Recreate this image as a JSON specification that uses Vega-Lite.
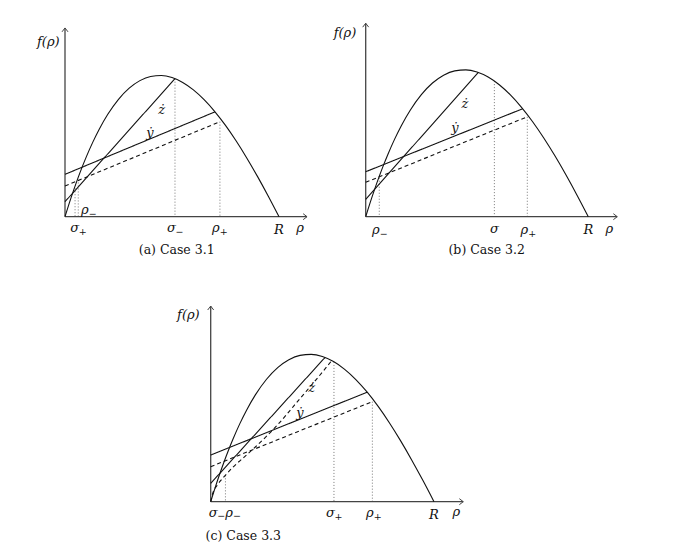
{
  "$schema": "https://vega.github.io/schema/vega-lite/v6.json",
  "background": "white",
  "padding": {"left": 24, "top": 12, "right": 0, "bottom": 0},
  "config": {"view": {"stroke": null}},
  "datasets": {
    "curve": [
      {"u": 0, "v": 0}, {"u": 0.01, "v": 0.032}, {"u": 0.02, "v": 0.0632}, {"u": 0.04, "v": 0.1228},
      {"u": 0.06, "v": 0.1789}, {"u": 0.08, "v": 0.2316}, {"u": 0.1, "v": 0.2808}, {"u": 0.13, "v": 0.3485},
      {"u": 0.16, "v": 0.4088}, {"u": 0.2, "v": 0.4784}, {"u": 0.25, "v": 0.5484}, {"u": 0.3, "v": 0.6006},
      {"u": 0.35, "v": 0.6359}, {"u": 0.4, "v": 0.6552}, {"u": 0.45, "v": 0.6596}, {"u": 0.5, "v": 0.65},
      {"u": 0.55, "v": 0.6274}, {"u": 0.6, "v": 0.5928}, {"u": 0.65, "v": 0.5471}, {"u": 0.7, "v": 0.4914},
      {"u": 0.75, "v": 0.4266}, {"u": 0.8, "v": 0.3536}, {"u": 0.85, "v": 0.2735}, {"u": 0.9, "v": 0.1872},
      {"u": 0.95, "v": 0.0957}, {"u": 1.0, "v": 0}
    ],
    "axes": [
      {"panel": "a", "axis": "x", "u": 0, "v": 0, "tip": false}, {"panel": "a", "axis": "x", "u": 1.131, "v": 0, "tip": true},
      {"panel": "a", "axis": "y", "u": 0, "v": 0, "tip": false}, {"panel": "a", "axis": "y", "u": 0, "v": 0.882, "tip": true},
      {"panel": "b", "axis": "x", "u": 0, "v": 0, "tip": false}, {"panel": "b", "axis": "x", "u": 1.13, "v": 0, "tip": true},
      {"panel": "b", "axis": "y", "u": 0, "v": 0, "tip": false}, {"panel": "b", "axis": "y", "u": 0, "v": 0.869, "tip": true},
      {"panel": "c", "axis": "x", "u": 0, "v": 0, "tip": false}, {"panel": "c", "axis": "x", "u": 1.131, "v": 0, "tip": true},
      {"panel": "c", "axis": "y", "u": 0, "v": 0, "tip": false}, {"panel": "c", "axis": "y", "u": 0, "v": 0.876, "tip": true}
    ],
    "segments": [
      {"panel": "a", "name": "ż", "u": 0, "v": 0.07}, {"panel": "a", "name": "ż", "u": 0.514, "v": 0.645},
      {"panel": "a", "name": "ẏ", "u": 0, "v": 0.198}, {"panel": "a", "name": "ẏ", "u": 0.701, "v": 0.49},
      {"panel": "a", "name": "ẏ dashed", "u": 0, "v": 0.1435}, {"panel": "a", "name": "ẏ dashed", "u": 0.724, "v": 0.444},
      {"panel": "b", "name": "ż", "u": 0, "v": 0.078}, {"panel": "b", "name": "ż", "u": 0.506, "v": 0.648},
      {"panel": "b", "name": "ẏ", "u": 0, "v": 0.202}, {"panel": "b", "name": "ẏ", "u": 0.705, "v": 0.485},
      {"panel": "b", "name": "ẏ dashed", "u": 0, "v": 0.1545}, {"panel": "b", "name": "ẏ dashed", "u": 0.726, "v": 0.449},
      {"panel": "c", "name": "ż", "u": 0, "v": 0.082}, {"panel": "c", "name": "ż", "u": 0.512, "v": 0.646},
      {"panel": "c", "name": "ẏ", "u": 0, "v": 0.209}, {"panel": "c", "name": "ẏ", "u": 0.7, "v": 0.49},
      {"panel": "c", "name": "ẏ dashed", "u": 0, "v": 0.157}, {"panel": "c", "name": "ẏ dashed", "u": 0.724, "v": 0.448},
      {"panel": "c", "name": "ż dashed", "u": 0, "v": 0}, {"panel": "c", "name": "ż dashed", "u": 0.01, "v": 0.04},
      {"panel": "c", "name": "ż dashed", "u": 0.03, "v": 0.075}, {"panel": "c", "name": "ż dashed", "u": 0.06, "v": 0.112},
      {"panel": "c", "name": "ż dashed", "u": 0.1, "v": 0.155}, {"panel": "c", "name": "ż dashed", "u": 0.15, "v": 0.2},
      {"panel": "c", "name": "ż dashed", "u": 0.2, "v": 0.245}, {"panel": "c", "name": "ż dashed", "u": 0.3, "v": 0.345},
      {"panel": "c", "name": "ż dashed", "u": 0.4, "v": 0.462}, {"panel": "c", "name": "ż dashed", "u": 0.5, "v": 0.58},
      {"panel": "c", "name": "ż dashed", "u": 0.542, "v": 0.632}
    ],
    "guides": [
      {"panel": "a", "name": "σ₊", "u": 0.047, "v": 0.133}, {"panel": "a", "name": "ρ₋", "u": 0.062, "v": 0.16},
      {"panel": "a", "name": "σ₋", "u": 0.514, "v": 0.645}, {"panel": "a", "name": "ρ₊", "u": 0.724, "v": 0.444},
      {"panel": "b", "name": "ρ₋", "u": 0.061, "v": 0.175}, {"panel": "b", "name": "σ", "u": 0.578, "v": 0.609},
      {"panel": "b", "name": "ρ₊", "u": 0.726, "v": 0.449},
      {"panel": "c", "name": "ρ₋", "u": 0.066, "v": 0.118}, {"panel": "c", "name": "σ₊", "u": 0.552, "v": 0.626},
      {"panel": "c", "name": "ρ₊", "u": 0.724, "v": 0.448}
    ],
    "labels": [
      {"panel": "a", "text": "f(ρ)", "sub": "", "u": -0.078, "v": 0.818},
      {"panel": "a", "text": "σ", "sub": "+", "u": 0.062, "v": -0.054},
      {"panel": "a", "text": "ρ", "sub": "−", "u": 0.109, "v": 0.031},
      {"panel": "a", "text": "σ", "sub": "−", "u": 0.514, "v": -0.054},
      {"panel": "a", "text": "ρ", "sub": "+", "u": 0.721, "v": -0.054},
      {"panel": "a", "text": "R", "sub": "", "u": 1.0, "v": -0.062},
      {"panel": "a", "text": "ρ", "sub": "", "u": 1.098, "v": -0.054},
      {"panel": "a", "text": "ż", "sub": "", "u": 0.452, "v": 0.499},
      {"panel": "a", "text": "ẏ", "sub": "", "u": 0.397, "v": 0.39},
      {"panel": "b", "text": "f(ρ)", "sub": "", "u": -0.093, "v": 0.824},
      {"panel": "b", "text": "ρ", "sub": "−", "u": 0.061, "v": -0.06},
      {"panel": "b", "text": "σ", "sub": "", "u": 0.578, "v": -0.054},
      {"panel": "b", "text": "ρ", "sub": "+", "u": 0.728, "v": -0.06},
      {"panel": "b", "text": "R", "sub": "", "u": 1.0, "v": -0.06},
      {"panel": "b", "text": "ρ", "sub": "", "u": 1.094, "v": -0.054},
      {"panel": "b", "text": "ż", "sub": "", "u": 0.446, "v": 0.506},
      {"panel": "b", "text": "ẏ", "sub": "", "u": 0.401, "v": 0.397},
      {"panel": "c", "text": "f(ρ)", "sub": "", "u": -0.1, "v": 0.836},
      {"panel": "c", "text": "σ", "sub": "−", "u": 0.027, "v": -0.05},
      {"panel": "c", "text": "ρ", "sub": "−", "u": 0.098, "v": -0.05},
      {"panel": "c", "text": "σ", "sub": "+", "u": 0.552, "v": -0.052},
      {"panel": "c", "text": "ρ", "sub": "+", "u": 0.728, "v": -0.052},
      {"panel": "c", "text": "R", "sub": "", "u": 1.0, "v": -0.06},
      {"panel": "c", "text": "ρ", "sub": "", "u": 1.1, "v": -0.045},
      {"panel": "c", "text": "ż", "sub": "", "u": 0.452, "v": 0.508},
      {"panel": "c", "text": "ẏ", "sub": "", "u": 0.4, "v": 0.396}
    ]
  },
  "bounds": "full",
  "spacing": 33,
  "vconcat": [
    {
      "bounds": "flush",
      "spacing": 4,
      "hconcat": [
        {
          "width": 298, "height": 233,
          "title": {"text": "(a) Case 3.1", "orient": "bottom", "font": "DejaVu Serif", "fontSize": 12.5, "fontWeight": "normal", "offset": -1, "dx": 3.7, "color": "#111"},
          "encoding": {
            "x": {"field": "u", "type": "quantitative", "scale": {"domain": [-0.19159, 1.20093], "nice": false, "zero": false}, "axis": null},
            "y": {"field": "v", "type": "quantitative", "scale": {"domain": [-0.13224, 0.95654], "nice": false, "zero": false}, "axis": null}
          },
          "layer": [
            {"data": {"name": "guides"}, "transform": [{"filter": "datum.panel == 'a'"}], "mark": {"type": "rule", "strokeDash": [1, 2], "color": "#777", "strokeWidth": 1}, "encoding": {"y2": {"datum": 0}}},
            {"data": {"name": "axes"}, "transform": [{"filter": "datum.panel == 'a'"}], "mark": {"type": "line", "color": "#444", "strokeWidth": 1.3}, "encoding": {"detail": {"field": "axis"}}},
            {"data": {"name": "axes"}, "transform": [{"filter": "datum.panel == 'a' && datum.tip && datum.axis == 'x'"}], "mark": {"type": "point", "shape": "M-1.3,-1L0,0L-1.3,1", "filled": false, "size": 36, "strokeWidth": 1, "color": "#444", "opacity": 1}, "encoding": {}},
            {"data": {"name": "axes"}, "transform": [{"filter": "datum.panel == 'a' && datum.tip && datum.axis == 'y'"}], "mark": {"type": "point", "shape": "M-1,1.3L0,0L1,1.3", "filled": false, "size": 36, "strokeWidth": 1, "color": "#444", "opacity": 1}, "encoding": {}},
            {"data": {"name": "curve"}, "mark": {"type": "line", "interpolate": "monotone", "color": "#111", "strokeWidth": 1.1}, "encoding": {}},
            {"data": {"name": "segments"}, "transform": [{"filter": "datum.panel == 'a'"}], "mark": {"type": "line", "interpolate": "monotone", "color": "#111", "strokeWidth": 1.1},
             "encoding": {"detail": {"field": "name"}, "strokeDash": {"field": "name", "type": "nominal", "scale": {"domain": ["ż", "ẏ", "ẏ dashed", "ż dashed"], "range": [[1, 0], [1, 0], [4, 3], [4, 3]]}, "legend": null}}},
            {"data": {"name": "labels"}, "transform": [{"filter": "datum.panel == 'a' && datum.sub == ''"}], "mark": {"type": "text", "font": "DejaVu Serif", "fontStyle": "italic", "fontSize": 13, "color": "#111", "baseline": "middle", "align": "center"}, "encoding": {"text": {"field": "text"}}},
            {"data": {"name": "labels"}, "transform": [{"filter": "datum.panel == 'a' && datum.sub != ''"}], "mark": {"type": "text", "font": "DejaVu Serif", "fontStyle": "italic", "fontSize": 13, "color": "#111", "baseline": "middle", "align": "center", "dx": -3.5}, "encoding": {"text": {"field": "text"}}},
            {"data": {"name": "labels"}, "transform": [{"filter": "datum.panel == 'a' && datum.sub != ''"}], "mark": {"type": "text", "font": "DejaVu Serif", "fontSize": 9.5, "color": "#111", "baseline": "middle", "align": "left", "dx": 0.5, "dy": 3.5}, "encoding": {"text": {"field": "sub"}}}
          ]
        },
        {
          "width": 299, "height": 233,
          "title": {"text": "(b) Case 3.2", "orient": "bottom", "font": "DejaVu Serif", "fontSize": 12.5, "fontWeight": "normal", "offset": -1, "dx": 11.2, "color": "#111"},
          "encoding": {
            "x": {"field": "u", "type": "quantitative", "scale": {"domain": [-0.17835, 1.16487], "nice": false, "zero": false}, "axis": null},
            "y": {"field": "v", "type": "quantitative", "scale": {"domain": [-0.12713, 0.91959], "nice": false, "zero": false}, "axis": null}
          },
          "layer": [
            {"data": {"name": "guides"}, "transform": [{"filter": "datum.panel == 'b'"}], "mark": {"type": "rule", "strokeDash": [1, 2], "color": "#777", "strokeWidth": 1}, "encoding": {"y2": {"datum": 0}}},
            {"data": {"name": "axes"}, "transform": [{"filter": "datum.panel == 'b'"}], "mark": {"type": "line", "color": "#444", "strokeWidth": 1.3}, "encoding": {"detail": {"field": "axis"}}},
            {"data": {"name": "axes"}, "transform": [{"filter": "datum.panel == 'b' && datum.tip && datum.axis == 'x'"}], "mark": {"type": "point", "shape": "M-1.3,-1L0,0L-1.3,1", "filled": false, "size": 36, "strokeWidth": 1, "color": "#444", "opacity": 1}, "encoding": {}},
            {"data": {"name": "axes"}, "transform": [{"filter": "datum.panel == 'b' && datum.tip && datum.axis == 'y'"}], "mark": {"type": "point", "shape": "M-1,1.3L0,0L1,1.3", "filled": false, "size": 36, "strokeWidth": 1, "color": "#444", "opacity": 1}, "encoding": {}},
            {"data": {"name": "curve"}, "mark": {"type": "line", "interpolate": "monotone", "color": "#111", "strokeWidth": 1.1}, "encoding": {}},
            {"data": {"name": "segments"}, "transform": [{"filter": "datum.panel == 'b'"}], "mark": {"type": "line", "interpolate": "monotone", "color": "#111", "strokeWidth": 1.1},
             "encoding": {"detail": {"field": "name"}, "strokeDash": {"field": "name", "type": "nominal", "scale": {"domain": ["ż", "ẏ", "ẏ dashed", "ż dashed"], "range": [[1, 0], [1, 0], [4, 3], [4, 3]]}, "legend": null}}},
            {"data": {"name": "labels"}, "transform": [{"filter": "datum.panel == 'b' && datum.sub == ''"}], "mark": {"type": "text", "font": "DejaVu Serif", "fontStyle": "italic", "fontSize": 13, "color": "#111", "baseline": "middle", "align": "center"}, "encoding": {"text": {"field": "text"}}},
            {"data": {"name": "labels"}, "transform": [{"filter": "datum.panel == 'b' && datum.sub != ''"}], "mark": {"type": "text", "font": "DejaVu Serif", "fontStyle": "italic", "fontSize": 13, "color": "#111", "baseline": "middle", "align": "center", "dx": -3.5}, "encoding": {"text": {"field": "text"}}},
            {"data": {"name": "labels"}, "transform": [{"filter": "datum.panel == 'b' && datum.sub != ''"}], "mark": {"type": "text", "font": "DejaVu Serif", "fontSize": 9.5, "color": "#111", "baseline": "middle", "align": "left", "dx": 0.5, "dy": 3.5}, "encoding": {"text": {"field": "sub"}}}
          ]
        }
      ]
    },
    {
      "width": 456, "height": 232,
      "title": {"text": "(c) Case 3.3", "orient": "bottom", "font": "DejaVu Serif", "fontSize": 12.5, "fontWeight": "normal", "offset": 8, "dx": -8.7, "color": "#111"},
      "encoding": {
        "x": {"field": "u", "type": "quantitative", "scale": {"domain": [-0.8361, 1.206], "nice": false, "zero": false}, "axis": null},
        "y": {"field": "v", "type": "quantitative", "scale": {"domain": [-0.09091, 0.94805], "nice": false, "zero": false}, "axis": null}
      },
      "layer": [
        {"data": {"name": "guides"}, "transform": [{"filter": "datum.panel == 'c'"}], "mark": {"type": "rule", "strokeDash": [1, 2], "color": "#777", "strokeWidth": 1}, "encoding": {"y2": {"datum": 0}}},
        {"data": {"name": "axes"}, "transform": [{"filter": "datum.panel == 'c'"}], "mark": {"type": "line", "color": "#444", "strokeWidth": 1.3}, "encoding": {"detail": {"field": "axis"}}},
        {"data": {"name": "axes"}, "transform": [{"filter": "datum.panel == 'c' && datum.tip && datum.axis == 'x'"}], "mark": {"type": "point", "shape": "M-1.3,-1L0,0L-1.3,1", "filled": false, "size": 36, "strokeWidth": 1, "color": "#444", "opacity": 1}, "encoding": {}},
        {"data": {"name": "axes"}, "transform": [{"filter": "datum.panel == 'c' && datum.tip && datum.axis == 'y'"}], "mark": {"type": "point", "shape": "M-1,1.3L0,0L1,1.3", "filled": false, "size": 36, "strokeWidth": 1, "color": "#444", "opacity": 1}, "encoding": {}},
        {"data": {"name": "curve"}, "mark": {"type": "line", "interpolate": "monotone", "color": "#111", "strokeWidth": 1.1}, "encoding": {}},
        {"data": {"name": "segments"}, "transform": [{"filter": "datum.panel == 'c'"}], "mark": {"type": "line", "interpolate": "monotone", "color": "#111", "strokeWidth": 1.1},
         "encoding": {"detail": {"field": "name"}, "strokeDash": {"field": "name", "type": "nominal", "scale": {"domain": ["ż", "ẏ", "ẏ dashed", "ż dashed"], "range": [[1, 0], [1, 0], [4, 3], [4, 3]]}, "legend": null}}},
        {"data": {"name": "labels"}, "transform": [{"filter": "datum.panel == 'c' && datum.sub == ''"}], "mark": {"type": "text", "font": "DejaVu Serif", "fontStyle": "italic", "fontSize": 13, "color": "#111", "baseline": "middle", "align": "center"}, "encoding": {"text": {"field": "text"}}},
        {"data": {"name": "labels"}, "transform": [{"filter": "datum.panel == 'c' && datum.sub != ''"}], "mark": {"type": "text", "font": "DejaVu Serif", "fontStyle": "italic", "fontSize": 13, "color": "#111", "baseline": "middle", "align": "center", "dx": -3.5}, "encoding": {"text": {"field": "text"}}},
        {"data": {"name": "labels"}, "transform": [{"filter": "datum.panel == 'c' && datum.sub != ''"}], "mark": {"type": "text", "font": "DejaVu Serif", "fontSize": 9.5, "color": "#111", "baseline": "middle", "align": "left", "dx": 0.5, "dy": 3.5}, "encoding": {"text": {"field": "sub"}}}
      ]
    }
  ]
}
